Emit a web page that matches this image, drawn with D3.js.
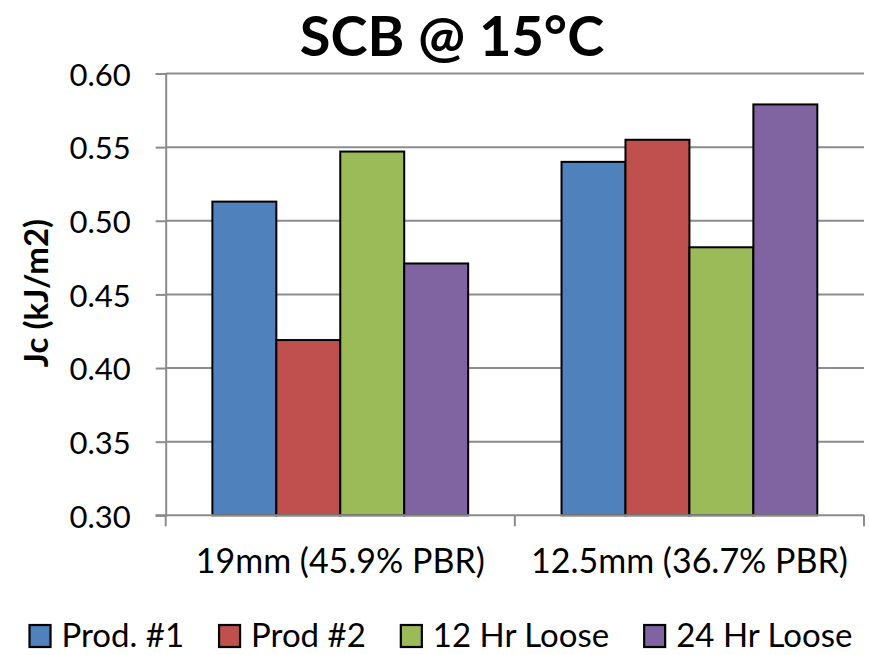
<!DOCTYPE html>
<html><head><meta charset="utf-8">
<script src="https://cdn.jsdelivr.net/npm/d3@7"></script>
<style>body{margin:0;background:#fff}svg{display:block}text{font-family:Lato,"Open Sans",sans-serif;fill:#000}</style>
</head><body><svg id="c" width="869" height="655"></svg>
<script>
const categories = ["19mm (45.9% PBR)", "12.5mm (36.7% PBR)"];
const seriesNames = ["Prod. #1", "Prod #2", "12 Hr Loose", "24 Hr Loose"];
const prod1 = [0.513, 0.540];
const prod2 = [0.419, 0.555];
const hr12 = [0.547, 0.482];
const hr24 = [0.471, 0.579];
const yTicks = [0.30, 0.35, 0.40, 0.45, 0.50, 0.55, 0.60];
const colors = ["#4F81BD", "#C0504D", "#9BBB59", "#8064A2"];
const seriesValues = [prod1, prod2, hr12, hr24];

const svg = d3.select("#c");
const L = 165.7, R = 864, T = 73.5, B = 515.3;
const x0 = d3.scaleBand().domain(categories).range([L, R]).padding(0);
const x1 = d3.scaleBand().domain(seriesNames).range([0, x0.bandwidth()]).paddingInner(0).paddingOuter(0.73);
const y = d3.scaleLinear().domain([0.30, 0.60]).range([B, T]);

// gridlines
svg.append("g").selectAll("line").data(yTicks.slice(1)).join("line")
  .attr("x1", L).attr("x2", R).attr("y1", d => y(d)).attr("y2", d => y(d))
  .attr("stroke", "#8c8c8c").attr("stroke-width", 2);

// bars
const data = [];
categories.forEach((c, ci) => seriesNames.forEach((s, si) => data.push({c, s, si, v: seriesValues[si][ci]})));
svg.append("g").selectAll("rect").data(data).join("rect")
  .attr("x", d => x0(d.c) + x1(d.s)).attr("width", x1.bandwidth())
  .attr("y", d => y(d.v)).attr("height", d => y(0.30) - y(d.v))
  .attr("fill", d => colors[d.si]).attr("stroke", "#000").attr("stroke-width", 2);

// y axis
const yAxis = d3.axisLeft(y).tickValues(yTicks).tickFormat(d3.format(".2f")).tickSize(10).tickPadding(25);
const gy = svg.append("g").attr("transform", `translate(${L},0)`).call(yAxis);
gy.select(".domain").attr("stroke", "#8c8c8c").attr("stroke-width", 2);
gy.selectAll(".tick line").attr("stroke", "#8c8c8c").attr("stroke-width", 2);
gy.selectAll(".tick text").attr("font-size", 31).attr("font-family", "Lato").attr("dy", "0.38em");

// x axis
const gx = svg.append("g").attr("transform", `translate(0,${B})`);
gx.append("line").attr("x1", L - 10).attr("x2", R).attr("stroke", "#8c8c8c").attr("stroke-width", 2);
const bounds = [L, ...categories.map(c => x0(c) + x0.bandwidth())];
gx.selectAll("line.t").data(bounds).join("line").attr("class", "t")
  .attr("x1", d => d).attr("x2", d => d).attr("y1", 0).attr("y2", 11)
  .attr("stroke", "#8c8c8c").attr("stroke-width", 2);
gx.selectAll("text").data(categories).join("text")
  .attr("x", d => x0(d) + x0.bandwidth() / 2).attr("y", 58)
  .attr("text-anchor", "middle").attr("font-size", 34).text(d => d);

// title
svg.append("text").attr("x", 452).attr("y", 56).attr("text-anchor", "middle")
  .attr("font-size", 56).attr("font-weight", "bold").text("SCB @ 15°C");

// y title
svg.append("text").attr("transform", "translate(48,293) rotate(-90)").attr("text-anchor", "middle")
  .attr("font-size", 33).attr("font-weight", "bold").text("Jc (kJ/m2)");

// legend
const lg = svg.append("g");
const items = lg.selectAll("g").data(seriesNames).join("g");
items.append("rect").attr("width", 21).attr("height", 22).attr("y", -22)
  .attr("fill", (d, i) => colors[i]).attr("stroke", "#000").attr("stroke-width", 2.2);
items.append("text").attr("x", 32).attr("y", 0).attr("font-size", 33).text(d => d);
let xx = 0;
const pos = [];
items.each(function () {
  const w = 32 + d3.select(this).select("text").node().getComputedTextLength();
  pos.push(xx); xx += w + 35;
});
const total = xx - 35;
const start = 441 - total / 2;
items.attr("transform", (d, i) => `translate(${start + pos[i]},647)`);
</script></body></html>
